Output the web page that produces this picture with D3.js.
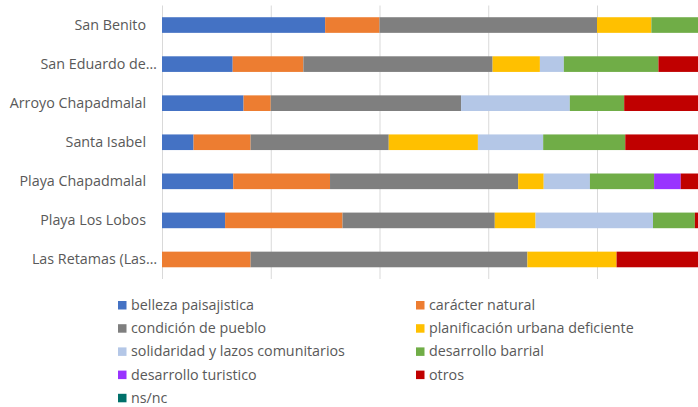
<!DOCTYPE html>
<html><head><meta charset="utf-8">
<script src="https://cdn.jsdelivr.net/npm/d3@7"></script>
<style>body{margin:0;background:#fff;} svg{display:block;}</style>
</head><body>
<svg id="c" width="698" height="407"></svg>
<script>
const categories = ["San Benito","San Eduardo de…","Arroyo Chapadmalal","Santa Isabel","Playa Chapadmalal","Playa Los Lobos","Las Retamas (Las…"];
const seriesNames = ["belleza paisajistica","carácter natural","condición de pueblo","planificación urbana deficiente","solidaridad y lazos comunitarios","desarrollo barrial","desarrollo turistico","otros","ns/nc"];
const seriesColors = ["#4472C4","#ED7D31","#7F7F7F","#FFC000","#B4C7E7","#70AD47","#9933FF","#C00000","#00706A"];
// percentages per series, in category order
const belleza      = [30, 13.0, 15, 5.8, 13.1, 11.6, 0];
const caracter     = [10, 13.0, 5, 10.5, 17.8, 21.6, 16.3];
const condicion    = [40, 34.8, 35, 25.4, 34.6, 28.0, 50.9];
const planificacion= [10, 8.7, 0, 16.4, 4.7, 7.5, 16.4];
const solidaridad  = [0, 4.4, 20, 12.0, 8.5, 21.6, 0];
const barrial      = [10, 17.4, 10, 15.1, 11.8, 7.7, 0];
const turistico    = [0, 0, 0, 0, 4.9, 0, 0];
const otros        = [0, 8.7, 15, 14.8, 4.6, 2.0, 16.4];
const nsnc         = [0, 0, 0, 0, 0, 0, 0];
const gridTicks = [0,20,40,60,80,100];

const seriesValues = [belleza,caracter,condicion,planificacion,solidaridad,barrial,turistico,otros,nsnc];
const rows = categories.map((c,i)=>{const o={cat:c}; seriesNames.forEach((s,j)=>o[s]=seriesValues[j][i]); return o;});
const stack = d3.stack().keys(seriesNames)(rows);

const svg = d3.select("#c");
const x = d3.scaleLinear().domain([0,100]).range([162,705.75]);
const y = d3.scaleBand().domain(categories).range([5.5,279]).paddingInner(0.6).paddingOuter(0.3);

svg.append("g").selectAll("line").data(gridTicks).join("line")
  .attr("x1",d=>x(d)+0.5).attr("x2",d=>x(d)+0.5)
  .attr("y1",5.5).attr("y2",279)
  .attr("stroke","#D9D9D9").attr("stroke-width",1);

svg.append("g").selectAll("g").data(stack).join("g")
  .attr("fill",(d,i)=>seriesColors[i])
  .selectAll("rect").data(d=>d).join("rect")
  .attr("x",d=>x(d[0])).attr("width",d=>x(d[1])-x(d[0]))
  .attr("y",d=>y(d.data.cat)).attr("height",y.bandwidth());

const FONT = "'Open Sans', sans-serif";
svg.append("g").selectAll("text").data(categories).join("text")
  .attr("x",d=>d.endsWith("…")?157:146)
  .attr("y",d=>y(d)+y.bandwidth()/2)
  .attr("dy","0.35em").attr("text-anchor","end")
  .attr("font-family",FONT).attr("font-size","14.3px")
  .attr("fill","#595959").text(d=>d);

const leg = svg.append("g").selectAll("g").data(seriesNames).join("g")
  .attr("transform",(d,i)=>`translate(${i%2===0?118:416},${305+Math.floor(i/2)*23.2})`);
leg.append("rect").attr("x",0).attr("y",-4).attr("width",8.5).attr("height",8.5)
  .attr("fill",(d,i)=>seriesColors[i]);
leg.append("text").attr("x",13).attr("y",0).attr("dy","0.35em")
  .attr("font-family",FONT).attr("font-size","14.3px")
  .attr("fill","#595959").text(d=>d);
</script>
</body></html>
